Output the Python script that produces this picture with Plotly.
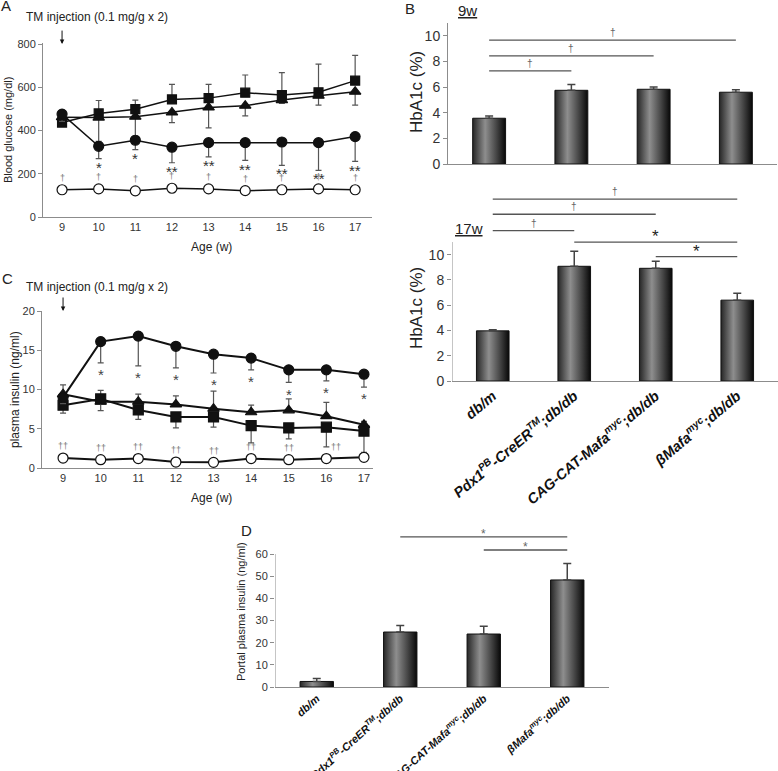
import plotly.graph_objects as go

W, H = 778, 771
def px(x): return x / W
def py(y): return 1 - y / H

# ---------------- data ----------------
weeks = [9, 10, 11, 12, 13, 14, 15, 16, 17]

# Panel A: blood glucose (mg/dl)
glu_circle = [476, 327, 355, 323, 344, 344, 347, 344, 372]
glu_circle_sd = [15, 57, 43, 72, 66, 82, 108, 128, 115]      # drawn downward
glu_square = [437, 479, 499, 544, 550, 575, 564, 577, 631]
glu_square_sd = [20, 60, 42, 70, 64, 82, 104, 130, 117]      # drawn upward
glu_triangle = [462, 460, 464, 484, 507, 515, 541, 561, 580]
glu_triangle_sd = [20, 110, 90, 47, 95, 47, 15, 43, 62]      # drawn downward
glu_open = [126, 130, 121, 133, 130, 122, 126, 130, 126]
glu_open_sd = [8, 8, 6, 8, 8, 6, 6, 8, 6]                    # drawn upward
glu_star = ["", "*", "*", "**", "**", "**", "**", "**", "**"]
glu_dagger = ["†"] * 9

# Panel C: plasma insulin (ng/ml)
ins_circle = [9.0, 16.1, 16.8, 15.5, 14.5, 14.0, 12.5, 12.5, 11.95]
ins_circle_sd = [0.8, 2.7, 3.8, 2.75, 2.4, 1.5, 1.6, 1.4, 1.65]   # down
ins_square = [8.0, 8.8, 7.4, 6.5, 6.5, 5.4, 5.1, 5.2, 4.7]
ins_square_sd = [1.0, 1.5, 1.2, 1.4, 1.3, 2.2, 1.4, 2.5, 2.7]     # down
ins_triangle = [9.4, 8.45, 8.45, 8.1, 7.55, 7.1, 7.35, 6.6, 5.5]
ins_triangle_sd = [1.2, 1.45, 0.95, 1.1, 2.25, 0.9, 1.45, 1.75, 0.45]  # up
ins_open = [1.27, 1.06, 1.2, 0.76, 0.72, 1.2, 1.06, 1.2, 1.36]
ins_open_sd = [0.3, 0.3, 0.3, 0.3, 0.3, 0.3, 0.3, 0.3, 0.3]       # up
ins_star = ["", "*", "*", "*", "*", "*", "*", "*", "*"]
ins_dagger = ["††", "††", "††", "††", "††", "††", "††", "††", "†"]

# Panel B / D categories
groups = ["<b><i>db/m</i></b>",
          "<b><i>Pdx1<sup>PB</sup>-CreER<sup>TM</sup>;db/db</i></b>",
          "<b><i>CAG-CAT-Mafa<sup>myc</sup>;db/db</i></b>",
          "<b><i>βMafa<sup>myc</sup>;db/db</i></b>"]
hba_9w = [3.57, 5.75, 5.83, 5.6]
hba_9w_sd = [0.18, 0.45, 0.17, 0.2]
hba_17w = [3.97, 9.08, 8.92, 6.4]
hba_17w_sd = [0.08, 1.2, 0.55, 0.55]
portal = [2.5, 24.8, 23.9, 48.3]
portal_sd = [1.3, 3.0, 3.5, 7.4]

# significance brackets: (from group, to group, level, label)
sig_9w = [(0, 1, 7.27, "†"), (0, 2, 8.44, "†"), (0, 3, 9.66, "†")]
sig_17w = [(0, 1, 11.9, "†"), (0, 2, 13.2, "†"), (0, 3, 14.4, "†"),
           (1, 3, 11.0, "*"), (2, 3, 9.84, "*")]
sig_portal = [(1, 3, 67.7, "*"), (2, 3, 61.8, "*")]

# ---------------- figure ----------------
FONT = "Liberation Sans, Arial, sans-serif"
TXT = "#222"
AX = "#8c8c8c"
fig = go.Figure()


def err(sd, up, color="#555", thick=1.2, width=3):
    z = [0] * len(sd)
    return dict(type="data", symmetric=False,
                array=sd if up else z, arrayminus=z if up else sd,
                color=color, thickness=thick, width=width)


def series(xa, ya, y, sd, up, symbol, filled, lw, size):
    fig.add_trace(go.Scatter(
        x=weeks, y=y, xaxis=xa, yaxis=ya, mode="lines+markers",
        line=dict(color="#111", width=lw),
        marker=dict(symbol=symbol, size=size,
                    color="#111" if filled else "white",
                    line=dict(color="#111", width=1.2)),
        error_y=err(sd, up), hoverinfo="skip", showlegend=False))


# Panel A
series("x", "y", glu_square, glu_square_sd, True, "square", True, 1.5, 9)
series("x", "y", glu_triangle, glu_triangle_sd, False, "triangle-up", True, 1.5, 10)
series("x", "y", glu_circle, glu_circle_sd, False, "circle", True, 1.5, 10)
series("x", "y", glu_open, glu_open_sd, True, "circle", False, 1.5, 10)

# Panel C
series("x2", "y2", ins_triangle, ins_triangle_sd, True, "triangle-up", True, 2, 10)
series("x2", "y2", ins_square, ins_square_sd, False, "square", True, 2, 10)
series("x2", "y2", ins_circle, ins_circle_sd, False, "circle", True, 2, 10)
series("x2", "y2", ins_open, ins_open_sd, True, "circle", False, 2, 10)

GRAD = [[0, "#262626"], [0.38, "#8e8e8e"], [0.7, "#4a4a4a"], [1, "#080808"]]
HALF = 0.2


def bars(xa, ya, vals, sds):
    for i, v in enumerate(vals):
        fig.add_trace(go.Scatter(
            x=[i - HALF, i + HALF, i + HALF, i - HALF, i - HALF],
            y=[0, 0, v, v, 0], xaxis=xa, yaxis=ya, mode="lines",
            fill="toself", fillgradient=dict(type="horizontal", colorscale=GRAD),
            line=dict(color="#111", width=1), hoverinfo="skip", showlegend=False))
    fig.add_trace(go.Scatter(
        x=list(range(len(vals))), y=vals, xaxis=xa, yaxis=ya, mode="markers",
        marker=dict(size=1, color="rgba(0,0,0,0)"),
        error_y=err(sds, True, color="#444", thick=1.5, width=4),
        hoverinfo="skip", showlegend=False))


bars("x3", "y3", hba_9w, hba_9w_sd)
bars("x4", "y4", hba_17w, hba_17w_sd)
bars("x5", "y5", portal, portal_sd)

ann = []
shapes = []


def brackets(xa, ya, sigs, dag_size, star_size, star_color):
    for a, b, lvl, lab in sigs:
        shapes.append(dict(type="line", xref=xa, yref=ya, x0=a, x1=b, y0=lvl, y1=lvl,
                           line=dict(color="#555", width=1.3)))
        if lab == "*":
            ann.append(dict(xref=xa, yref=ya, x=(a + b) / 2, y=lvl, text=lab, showarrow=False,
                            yanchor="bottom", yshift=-6,
                            font=dict(size=star_size, color=star_color, family=FONT)))
        else:
            ann.append(dict(xref=xa, yref=ya, x=(a + b) / 2, y=lvl, text=lab, showarrow=False,
                            yanchor="bottom", yshift=0,
                            font=dict(size=dag_size, color="#666", family=FONT)))


brackets("x3", "y3", sig_9w, 10, 16, "#222")
brackets("x4", "y4", sig_17w, 10, 17, "#222")
brackets("x5", "y5", sig_portal, 10, 12, "#666")

# axis lines drawn only up to the top tick where brackets rise above
shapes.append(dict(type="line", xref="x4", yref="y4", x0=-0.5, x1=-0.5, y0=0, y1=11,
                   line=dict(color=AX, width=1)))
shapes.append(dict(type="line", xref="x5", yref="y5", x0=-0.5, x1=-0.5, y0=0, y1=60,
                   line=dict(color=AX, width=1)))

# significance marks in line panels
for i, w in enumerate(weeks):
    if glu_star[i]:
        ann.append(dict(xref="x", yref="y", x=w, y=glu_circle[i] - glu_circle_sd[i] - 40,
                        text=glu_star[i], showarrow=False, yanchor="middle",
                        font=dict(size=15, color="#333", family=FONT)))
    ann.append(dict(xref="x", yref="y", x=w, y=glu_open[i] + 55, text=glu_dagger[i],
                    showarrow=False, yanchor="middle",
                    font=dict(size=9, color="#777", family=FONT)))
    if ins_star[i]:
        ann.append(dict(xref="x2", yref="y2", x=w, y=ins_circle[i] - ins_circle_sd[i] - 1.5,
                        text=ins_star[i], showarrow=False, yanchor="middle",
                        font=dict(size=15, color="#444", family=FONT)))
    ann.append(dict(xref="x2", yref="y2", x=w + (0.25 if w >= 16 else 0),
                    y=ins_open[i] + 1.5, text=ins_dagger[i],
                    showarrow=False, yanchor="middle",
                    font=dict(size=9, color="#777", family=FONT)))

# TM injection arrows
for xa, ya, top in (("x", "y", 800), ("x2", "y2", 20)):
    ann.append(dict(xref=xa, yref=ya, x=9, y=top, ax=0, ay=-15, text="", showarrow=True,
                    arrowhead=2, arrowsize=0.9, arrowwidth=1, arrowcolor="#111"))


def text(x, y, t, size, angle=0, color=TXT, xanchor="center"):
    ann.append(dict(xref="paper", yref="paper", x=px(x), y=py(y), text=t, showarrow=False,
                    textangle=angle, xanchor=xanchor, yanchor="middle",
                    font=dict(size=size, color=color, family=FONT)))


text(6, 6, "A", 15)
text(7, 278, "C", 15)
text(410, 9, "B", 15)
text(246, 530, "D", 15)
text(97, 17, "TM injection (0.1 mg/g x 2)", 12)
text(97, 287, "TM injection (0.1 mg/g x 2)", 12)
text(8, 130, "Blood glucose (mg/dl)", 11, -90)
text(15, 390, "plasma insulin (ng/ml)", 12, -90)
text(212, 247, "Age (w)", 12)
text(212, 498, "Age (w)", 12)
text(416, 92, "HbA1c (%)", 17, -90)
text(416, 308, "HbA1c (%)", 17, -90)
text(241, 612, "Portal plasma insulin (ng/ml)", 11, -90)
text(467, 11, "<u>9w</u>", 15)
text(469, 228, "<u>17w</u>", 15)

tick_font = dict(size=11, color="#333", family=FONT)


def xax(dom, rng, **kw):
    d = dict(domain=dom, range=rng, showline=True, linecolor=AX, linewidth=1,
             showgrid=False, zeroline=False, ticks="", tickfont=tick_font,
             fixedrange=True, automargin=False)
    d.update(kw)
    return d


def yax(dom, rng, tv, **kw):
    d = dict(domain=dom, range=rng, tickvals=tv, showline=True, linecolor=AX, linewidth=1,
             showgrid=False, zeroline=False, ticks="outside", ticklen=4, tickcolor=AX,
             tickfont=tick_font, fixedrange=True, automargin=False)
    d.update(kw)
    return d


fig.update_layout(
    template="none",
    width=W, height=H, margin=dict(l=0, r=0, t=0, b=0, autoexpand=False),
    paper_bgcolor="white", plot_bgcolor="white", showlegend=False,
    font=dict(family=FONT, color=TXT),
    xaxis=xax([px(43), px(372)], [8.48, 17.46], anchor="y", tickvals=weeks),
    yaxis=yax([py(217), py(43)], [0, 805], [0, 200, 400, 600, 800], anchor="x"),
    xaxis2=xax([px(42), px(373)], [8.44, 17.24], anchor="y2", tickvals=weeks),
    yaxis2=yax([py(468), py(311)], [0, 20], [0, 5, 10, 15, 20], anchor="x2"),
    xaxis3=xax([px(448), px(777)], [-0.5, 3.5], anchor="y3", showticklabels=False),
    yaxis3=yax([py(164), py(23)], [0, 11], [0, 2, 4, 6, 8, 10], anchor="x3",
               tickfont=dict(size=14, color="#333", family=FONT)),
    xaxis4=xax([px(452), 1.0], [-0.5, 3.5], anchor="y4", tickvals=[0, 1, 2, 3],
               ticktext=groups, tickangle=-40,
               tickfont=dict(size=14.5, color="#111", family=FONT)),
    yaxis4=yax([py(381), py(191.5)], [0, 15], [0, 2, 4, 6, 8, 10], anchor="x4",
               showline=False, tickfont=dict(size=14, color="#333", family=FONT)),
    xaxis5=xax([px(275), px(609)], [-0.5, 3.5], anchor="y5", tickvals=[0, 1, 2, 3],
               ticktext=groups, tickangle=-42,
               tickfont=dict(size=11, color="#111", family=FONT)),
    yaxis5=yax([py(687), py(527.4)], [0, 72], [0, 10, 20, 30, 40, 50, 60], anchor="x5",
               showline=False),
    annotations=ann, shapes=shapes,
)

fig.write_html("out.html", config={"displayModeBar": False},
               post_script="document.body.style.margin='0px';")
